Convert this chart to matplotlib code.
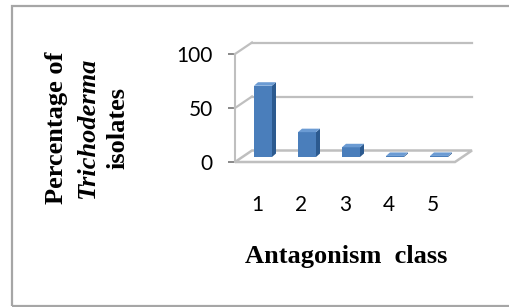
import matplotlib.pyplot as plt
from matplotlib.patches import Rectangle, Polygon

classes = ['1', '2', '3', '4', '5']
percent = [66, 23, 9, 1, 1]
yticks = [0, 50, 100]

W, H = 510, 307
fig = plt.figure(figsize=(W / 100, H / 100), dpi=100)

# outer frame of the chart area (right side runs off the picture)
fig.patches.append(Rectangle((12 / W, 1 - 306 / H), 520 / W, 300 / H,
                             transform=fig.transFigure, fill=False,
                             edgecolor='#a6a6a6', linewidth=1.6))

ax = fig.add_axes([235 / W, 1 - 162 / H, 220 / W, 108 / H])
ax.set_xlim(0.5, 5.5)
ax.set_ylim(0, 100)
ax.patch.set_visible(False)
for s in ['top', 'right', 'bottom']:
    ax.spines[s].set_visible(False)
ax.spines['left'].set_color('#bfbfbf')
ax.spines['left'].set_linewidth(1.5)

# pixel -> data units
ux = 5 / 220
uy = 100 / 108
ddx, ddy = 17 * ux, 11.5 * uy  # depth of floor / walls

# back wall gridlines and left wall diagonals
for v in yticks[1:]:
    ax.plot([0.5 + ddx, 5.5 + ddx], [v + ddy, v + ddy], color='#bfbfbf', lw=1.6, clip_on=False)
    ax.plot([0.5, 0.5 + ddx], [v, v + ddy], color='#bfbfbf', lw=1.6, clip_on=False)

# floor
ax.add_patch(Polygon([(0.5, 0), (5.5, 0), (5.5 + ddx, ddy), (0.5 + ddx, ddy)],
                     closed=True, facecolor='white', edgecolor='#bfbfbf', lw=1.8, clip_on=False))

# bars with a little depth
bw = 18 * ux
ox, oy = 6 * ux, 5 * uy
bx, by = 4 * ux, 3.5 * uy
x = [i + 1 for i in range(len(classes))]
xs = [xi + ox for xi in x]
ax.bar(xs, percent, width=bw, bottom=oy, color='#4a7ebb', edgecolor='none', clip_on=False, zorder=3)
for xi, v in zip(xs, percent):
    l, r = xi - bw / 2, xi + bw / 2
    t, b = v + oy, oy
    ax.add_patch(Polygon([(r, b), (r, t), (r + bx, t + by), (r + bx, b + by)],
                         closed=True, facecolor='#2c5a8f', edgecolor='none', clip_on=False, zorder=3))
    ax.add_patch(Polygon([(l, t), (r, t), (r + bx, t + by), (l + bx, t + by)],
                         closed=True, facecolor='#6b9bd3', edgecolor='none', clip_on=False, zorder=3))

ax.set_yticks(yticks)
ax.set_yticklabels([str(v) for v in yticks], fontfamily='Lato', fontsize=15)
ax.tick_params(axis='y', length=5, width=1.3, color='#808080', pad=11)
ax.set_xticks(x)
ax.set_xticklabels(classes, fontfamily='Lato', fontsize=15)
ax.tick_params(axis='x', length=0, pad=24)

fig.text(346 / W, 1 - 257 / H, 'Antagonism  class', ha='center', va='center',
         fontfamily='Liberation Serif', fontweight='bold', fontsize=19)
fig.text(57 / W, 1 - 128 / H, 'Percentage of', rotation=90, ha='center', va='center',
         fontfamily='Liberation Serif', fontweight='bold', fontsize=19)
fig.text(88 / W, 1 - 128 / H, 'Trichoderma', rotation=90, ha='center', va='center',
         fontfamily='Liberation Serif', fontweight='bold', fontstyle='italic', fontsize=19)
fig.text(118 / W, 1 - 128 / H, 'isolates', rotation=90, ha='center', va='center',
         fontfamily='Liberation Serif', fontweight='bold', fontsize=19)

fig.savefig('out.png', dpi=100)
